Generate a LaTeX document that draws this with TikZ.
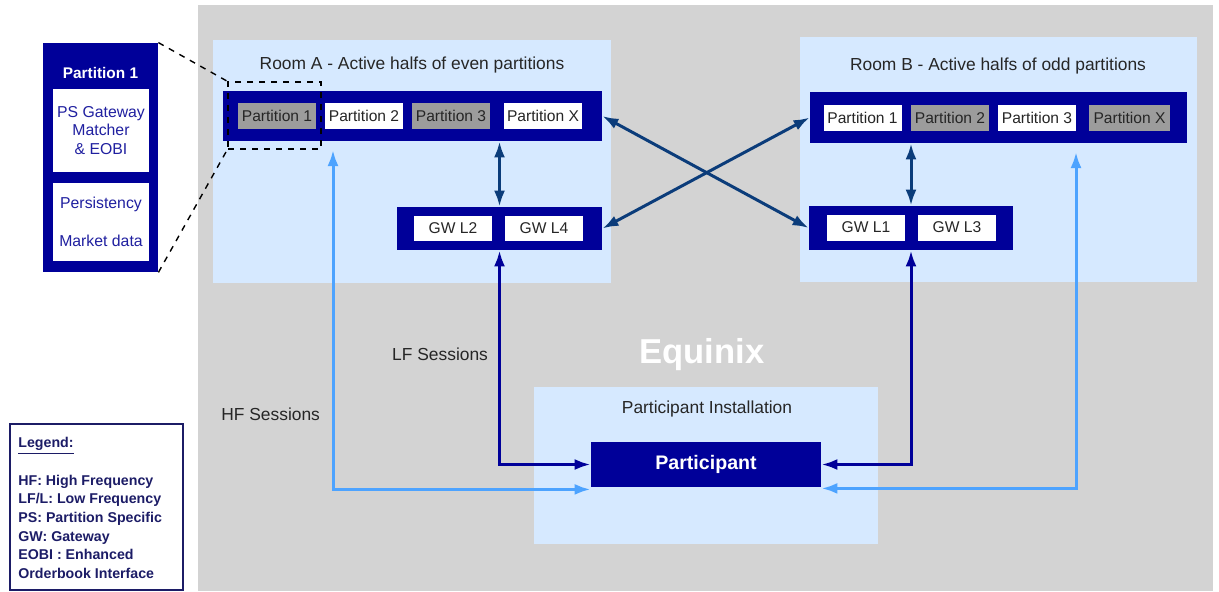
\documentclass[tikz,border=0pt]{standalone}
\usepackage{fontspec}
\setmainfont{Liberation Sans}
\usetikzlibrary{arrows.meta}
\definecolor{bggray}{HTML}{D3D3D3}
\definecolor{roomblue}{HTML}{D6E9FF}
\definecolor{barnavy}{HTML}{000099}
\definecolor{cellgray}{HTML}{9C9C9C}
\definecolor{hfblue}{HTML}{4DA3FF}
\definecolor{xnavy}{HTML}{0B3C7A}
\definecolor{txtnavy}{HTML}{2020A0}
\definecolor{legnavy}{HTML}{1C1C66}

\begin{document}
\begin{tikzpicture}[x=0.5pt,y=-0.5pt,
    room/.style={fill=roomblue,inner sep=0},
    bar/.style={fill=barnavy,inner sep=0},
    cell/.style={fill=white,inner sep=0,minimum width=39pt,minimum height=13pt,
      font=\fontsize{7.8}{9}\selectfont,text=black!85},
    cellg/.style={cell,fill=cellgray},
    dual/.style={xnavy,line width=1.5pt,
      {Latex[length=8pt,width=5.5pt]}-{Latex[length=8pt,width=5.5pt]}},
    lf/.style={dual,barnavy},
    hf/.style={dual,hfblue},
    title/.style={font=\fontsize{8.7}{10}\selectfont,text=black!85}]
  \useasboundingbox (0,0) rectangle (1219,591);
  \fill[bggray] (198,5) rectangle (1213,591);

  % rooms
  \node[room,minimum width=199pt,minimum height=121.5pt] (roomA) at (412,161.5) {};
  \node[room,minimum width=198.5pt,minimum height=122.5pt] (roomB) at (998.5,159.5) {};
  \node[title] at (412,65) {Room A - Active halfs of even partitions};
  \node[title] at (998,66) {Room B - Active halfs of odd partitions};

  % room A
  \node[bar,minimum width=189.5pt,minimum height=25pt] (partA) at (412.5,116) {};
  \node[cellg] (a1) at (277,116) {Partition 1};
  \node[cell]  (a2) at (364,116) {Partition 2};
  \node[cellg] (a3) at (451,116) {Partition 3};
  \node[cell]  (ax) at (543,116) {Partition X};
  \node[bar,minimum width=102.5pt,minimum height=21.5pt] (gwA) at (499.5,228.5) {};
  \node[cell,minimum height=12.5pt] (gwl2) at (453,228.5) {GW L2};
  \node[cell,minimum height=12.5pt] (gwl4) at (544,228.5) {GW L4};

  % room B
  \node[bar,minimum width=188.5pt,minimum height=25.5pt] (partB) at (998.5,117.5) {};
  \node[cell]  (b1) at (862.5,117.5) {Partition 1};
  \node[cellg] (b2) at (950,117.5) {Partition 2};
  \node[cell]  (b3) at (1037,117.5) {Partition 3};
  \node[cellg,minimum width=40.5pt] (bx) at (1129.5,117.5) {Partition X};
  \node[bar,minimum width=102pt,minimum height=22pt] (gwB) at (911,228) {};
  \node[cell] (gwl1) at (866,227.5) {GW L1};
  \node[cell] (gwl3) at (957,227.5) {GW L3};

  % participant
  \node[font=\fontsize{17.3}{20}\selectfont\bfseries,text=white] (equinix) at (702,355) {Equinix};
  \node[room,minimum width=172pt,minimum height=78.5pt] (inst) at (706,465.5) {};
  \node[title] at (707,409) {Participant Installation};
  \node[bar,minimum width=115pt,minimum height=22.5pt,text=white,
    font=\fontsize{9.8}{11}\selectfont\bfseries] (part) at (706,464.5) {Participant};

  % partition 1 detail
  \node[bar,minimum width=57.5pt,minimum height=114.5pt] (detail) at (100.5,157.5) {};
  \node[text=white,font=\fontsize{7.7}{9}\selectfont\bfseries] at (100.5,73) {Partition 1};
  \node[fill=white,inner sep=0,minimum width=48pt,minimum height=41.5pt,align=center,
    text=txtnavy,font=\fontsize{7.9}{9.25}\selectfont] (psgw) at (101,130.5)
    {PS Gateway\\Matcher\\\& EOBI};
  \node[fill=white,inner sep=0,minimum width=48pt,minimum height=39pt,align=center,
    text=txtnavy,font=\fontsize{7.9}{9.25}\selectfont] (persist) at (101,222)
    {Persistency\\[9.75pt]Market data};
  \node[draw,dashed,line width=0.8pt,inner sep=0,minimum width=46.5pt,minimum height=33.5pt]
    (zoomA) at (274.5,115.5) {};
  \draw[dashed,line width=0.7pt] (detail.north east) -- (zoomA.north west);
  \draw[dashed,line width=0.7pt] (detail.south east) -- (zoomA.south west);

  % connectors
  \draw[dual] (gwA.north) -- (gwA.north |- partA.south);
  \draw[dual] (gwB.north) -- (gwB.north |- partB.south);
  \draw[dual] (partA.east) -- (gwB.west);
  \draw[dual] (gwA.east) -- (partB.west);
  \draw[lf] (gwA.south) |- (part.west);
  \draw[lf] (gwB.south) |- (part.east);
  \coordinate (hfA) at (333,150);
  \coordinate (hfB) at (1076,152);
  \draw[hf] (hfA) |- ([yshift=-1pt]part.south west);
  \draw[hf] (hfB) |- ([yshift=-0.5pt]part.south east);
  \node[title,anchor=east] at (495,354) {LF Sessions};
  \node[title,anchor=east] at (327,414) {HF Sessions};

  % legend
  \node[draw=legnavy,line width=0.75pt,inner sep=0,minimum width=86.5pt,minimum height=83pt]
    (legend) at (96.5,507) {};
  \node[anchor=north west,align=left,inner sep=0,text=legnavy,
    font=\fontsize{7.1}{9.35}\selectfont\bfseries] (legtext) at (18,437)
    {\underline{Legend:}\\[9.35pt]HF: High Frequency\\LF/L: Low Frequency\\
     PS: Partition Specific\\GW: Gateway\\EOBI : Enhanced\\Orderbook Interface};
\end{tikzpicture}
\end{document}
